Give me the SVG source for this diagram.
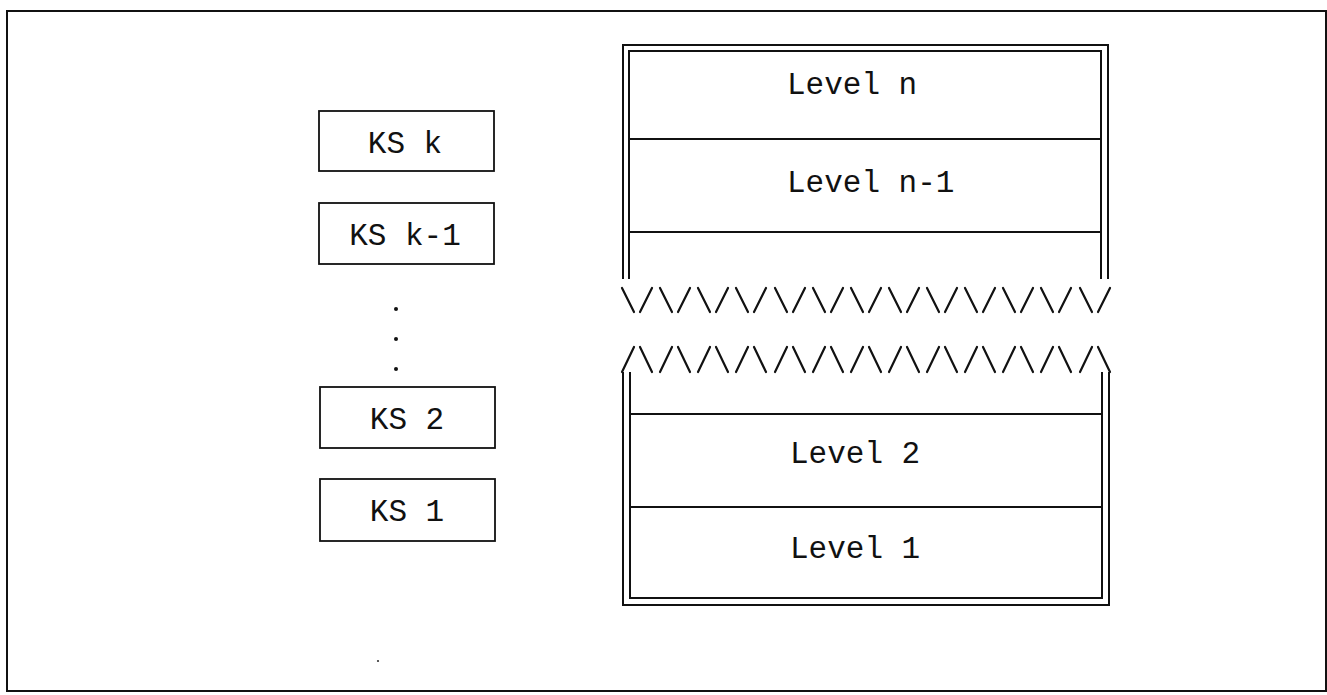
<svg xmlns="http://www.w3.org/2000/svg" width="1327" height="695" viewBox="0 0 1327 695">
<style>
.ln{stroke:#111;stroke-width:2;fill:none;stroke-linecap:butt}
.box{stroke:#111;stroke-width:1.8;fill:#fff}
.t{font-family:"Liberation Mono","Courier New",monospace;font-size:31px;fill:#111}
.z{stroke:#111;stroke-width:2.2;stroke-linecap:round}
</style>
<rect x="0" y="0" width="1327" height="695" fill="#fff"/>
<rect id="frame" x="7" y="11" width="1319" height="680" fill="none" stroke="#111" stroke-width="2"/>

<g id="ks-k"><rect class="box" x="319" y="111" width="175" height="60"/><text class="t" x="405" y="153" text-anchor="middle">KS k</text></g>
<g id="ks-k-1"><rect class="box" x="319" y="203" width="175" height="61"/><text class="t" x="405" y="245" text-anchor="middle">KS k-1</text></g>
<g id="dots" fill="#111"><circle cx="396" cy="309" r="2"/><circle cx="396" cy="339" r="2"/><circle cx="396" cy="369" r="2"/></g>
<g id="ks-2"><rect class="box" x="320" y="387" width="175" height="61"/><text class="t" x="407" y="429" text-anchor="middle">KS 2</text></g>
<g id="ks-1"><rect class="box" x="320" y="479" width="175" height="62"/><text class="t" x="407" y="521" text-anchor="middle">KS 1</text></g>

<g id="levels-top">
<path class="ln" d="M623,279 V45 H1108 V279"/>
<path class="ln" d="M629,279 V51 H1101 V279"/>
<line class="ln" x1="629" y1="139" x2="1101" y2="139"/>
<line class="ln" x1="629" y1="232" x2="1101" y2="232"/>
<text class="t" x="787" y="94">Level n</text>
<text class="t" x="787" y="192">Level n-1</text>
</g>

<g id="break-marks">
<line class="z" x1="622" y1="288" x2="634" y2="312"/><line class="z" x1="640" y1="312" x2="652" y2="288"/>
<line class="z" x1="660" y1="288" x2="672" y2="312"/><line class="z" x1="678" y1="312" x2="690" y2="288"/>
<line class="z" x1="698" y1="288" x2="710" y2="312"/><line class="z" x1="716" y1="312" x2="728" y2="288"/>
<line class="z" x1="736" y1="288" x2="748" y2="312"/><line class="z" x1="754" y1="312" x2="766" y2="288"/>
<line class="z" x1="775" y1="288" x2="787" y2="312"/><line class="z" x1="793" y1="312" x2="805" y2="288"/>
<line class="z" x1="813" y1="288" x2="825" y2="312"/><line class="z" x1="831" y1="312" x2="843" y2="288"/>
<line class="z" x1="851" y1="288" x2="863" y2="312"/><line class="z" x1="869" y1="312" x2="881" y2="288"/>
<line class="z" x1="889" y1="288" x2="901" y2="312"/><line class="z" x1="907" y1="312" x2="919" y2="288"/>
<line class="z" x1="927" y1="288" x2="939" y2="312"/><line class="z" x1="945" y1="312" x2="957" y2="288"/>
<line class="z" x1="965" y1="288" x2="977" y2="312"/><line class="z" x1="983" y1="312" x2="995" y2="288"/>
<line class="z" x1="1003" y1="288" x2="1015" y2="312"/><line class="z" x1="1021" y1="312" x2="1033" y2="288"/>
<line class="z" x1="1041" y1="288" x2="1053" y2="312"/><line class="z" x1="1059" y1="312" x2="1071" y2="288"/>
<line class="z" x1="1080" y1="288" x2="1092" y2="312"/><line class="z" x1="1098" y1="312" x2="1110" y2="288"/>

<line class="z" x1="622" y1="372" x2="634" y2="347"/><line class="z" x1="640" y1="347" x2="652" y2="372"/>
<line class="z" x1="660" y1="372" x2="672" y2="347"/><line class="z" x1="678" y1="347" x2="690" y2="372"/>
<line class="z" x1="698" y1="372" x2="710" y2="347"/><line class="z" x1="716" y1="347" x2="728" y2="372"/>
<line class="z" x1="736" y1="372" x2="748" y2="347"/><line class="z" x1="754" y1="347" x2="766" y2="372"/>
<line class="z" x1="775" y1="372" x2="787" y2="347"/><line class="z" x1="793" y1="347" x2="805" y2="372"/>
<line class="z" x1="813" y1="372" x2="825" y2="347"/><line class="z" x1="831" y1="347" x2="843" y2="372"/>
<line class="z" x1="851" y1="372" x2="863" y2="347"/><line class="z" x1="869" y1="347" x2="881" y2="372"/>
<line class="z" x1="889" y1="372" x2="901" y2="347"/><line class="z" x1="907" y1="347" x2="919" y2="372"/>
<line class="z" x1="927" y1="372" x2="939" y2="347"/><line class="z" x1="945" y1="347" x2="957" y2="372"/>
<line class="z" x1="965" y1="372" x2="977" y2="347"/><line class="z" x1="983" y1="347" x2="995" y2="372"/>
<line class="z" x1="1003" y1="372" x2="1015" y2="347"/><line class="z" x1="1021" y1="347" x2="1033" y2="372"/>
<line class="z" x1="1041" y1="372" x2="1053" y2="347"/><line class="z" x1="1059" y1="347" x2="1071" y2="372"/>
<line class="z" x1="1080" y1="372" x2="1092" y2="347"/><line class="z" x1="1098" y1="347" x2="1110" y2="372"/>
</g>

<g id="levels-bottom">
<path class="ln" d="M623,372 V605 H1109 V372"/>
<path class="ln" d="M630,372 V598 H1102 V372"/>
<line class="ln" x1="630" y1="414" x2="1102" y2="414"/>
<line class="ln" x1="630" y1="507" x2="1102" y2="507"/>
<text class="t" x="790" y="463">Level 2</text>
<text class="t" x="790" y="558">Level 1</text>
</g>

<circle id="speck" cx="378" cy="661" r="1.1" fill="#333"/>
</svg>
